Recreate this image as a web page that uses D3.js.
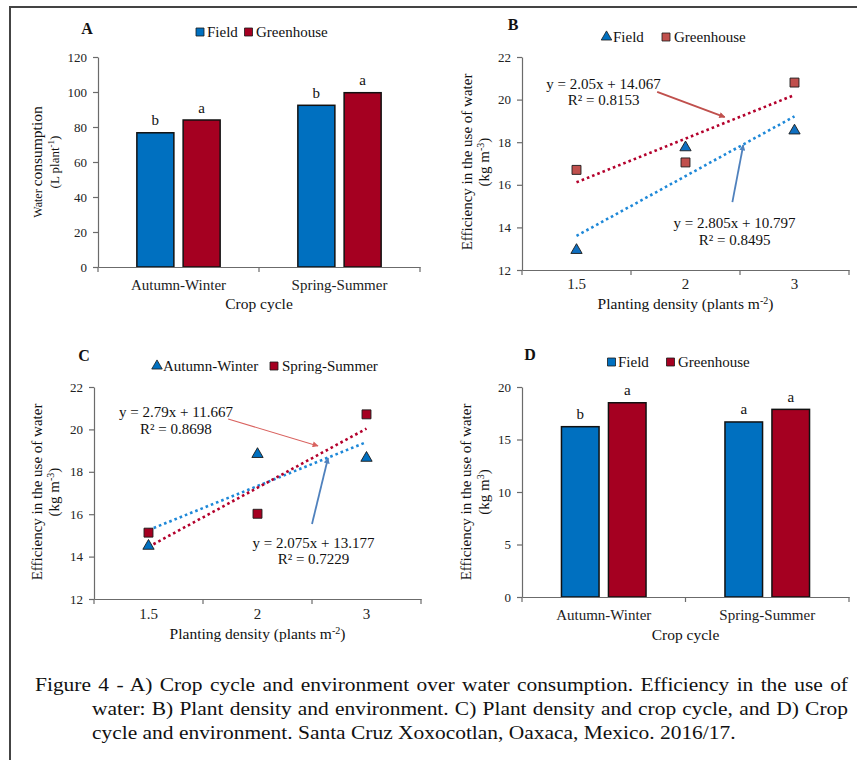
<!DOCTYPE html>
<html>
<head>
<meta charset="utf-8">
<script src="https://cdn.jsdelivr.net/npm/d3@7"></script>
<style>
    body { margin: 0; background: #fff; }
    svg { display: block; font-family: "Liberation Serif", "Times New Roman", serif; }
</style>
</head>
<body>
<svg id="fig" width="857" height="760"></svg>
<script>
// ---- data ----
const cropCycles = ['Autumn-Winter', 'Spring-Summer'];
const environments = ['Field', 'Greenhouse'];

// A) water consumption (L plant-1)
const waterField = [76.7, 92.4];
const waterGreenhouse = [84.0, 99.6];
const waterLettersField = ['b', 'b'];
const waterLettersGreenhouse = ['a', 'a'];
const waterTicks = [0, 20, 40, 60, 80, 100, 120];

// B) / C) efficiency by planting density (kg m-3)
const densities = ['1.5', '2', '3'];
const effField = [12.93, 17.75, 18.54];
const effGreenhouse = [16.7, 17.05, 20.8];
const effAutumn = [14.5, 18.83, 18.65];
const effSpring = [15.13, 16.02, 20.71];
const trendField = { slope: 2.805, intercept: 10.797, r2: 0.8495 };
const trendGreenhouse = { slope: 2.05, intercept: 14.067, r2: 0.8153 };
const trendAutumn = { slope: 2.075, intercept: 13.177, r2: 0.7229 };
const trendSpring = { slope: 2.79, intercept: 11.667, r2: 0.8698 };
const effTicks = [12, 14, 16, 18, 20, 22];

// D) efficiency by crop cycle (kg m-3)
const effCycleField = [16.22, 16.67];
const effCycleGreenhouse = [18.5, 17.87];
const effLettersField = ['b', 'a'];
const effLettersGreenhouse = ['a', 'a'];
const effCycleTicks = [0, 5, 10, 15, 20];

const captionLines = [
    'Figure 4 - A) Crop cycle and environment over water consumption. Efficiency in the use of',
    'water: B) Plant density and environment. C) Plant density and crop cycle, and D) Crop',
    'cycle and environment. Santa Cruz Xoxocotlan, Oaxaca, Mexico. 2016/17.'
];

// ---- styles ----
const serif = '"Liberation Serif", "Times New Roman", serif';
const axisColor = '#6b6b6b';
const barBlue = '#0070c0', barRed = '#a50021';
const dotBlue = '#1e88d8', dotRed = '#b3002c';

const svg = d3.select('#fig');

// frame
svg.append('path')
    .attr('d', 'M10,760V7H857')
    .attr('fill', 'none')
    .attr('stroke', '#444')
    .attr('stroke-width', 2);

const defs = svg.append('defs');
function arrowMarker(id, color) {
    defs.append('marker')
        .attr('id', id)
        .attr('viewBox', '0 0 10 10')
        .attr('refX', 9).attr('refY', 5)
        .attr('markerWidth', 7).attr('markerHeight', 6)
        .attr('markerUnits', 'userSpaceOnUse')
        .attr('orient', 'auto')
        .append('path')
        .attr('d', 'M0,0L10,5L0,10Z')
        .attr('fill', color);
}
arrowMarker('arRed', '#c0504d');
arrowMarker('arBlue', '#4f81bd');
arrowMarker('arRed2', '#d9625f');

function styleYAxis(sel) {
    sel.attr('font-family', serif).attr('font-size', 13);
    sel.select('.domain').attr('stroke', axisColor).attr('stroke-width', 1.2);
    sel.selectAll('.tick line').attr('stroke', axisColor).attr('stroke-width', 1.2);
    sel.selectAll('.tick text').attr('fill', '#222');
}

function drawXAxis(g, x, y0, labelOffset) {
    let ax = g.append('g')
        .attr('transform', `translate(0,${y0})`)
        .call(d3.axisBottom(x).tickSize(0).tickSizeOuter(0))
        .attr('font-family', serif)
        .attr('font-size', 15);
    ax.select('.domain').attr('stroke', axisColor).attr('stroke-width', 1.2);
    ax.selectAll('.tick text').attr('y', labelOffset).attr('dy', 0).attr('fill', '#222');
    let bounds = x.domain().map(d => x(d)).concat(x.range()[1]);
    ax.selectAll('line.bound')
        .data(bounds)
        .join('line')
        .attr('class', 'bound')
        .attr('x1', d => d).attr('x2', d => d)
        .attr('y1', 0).attr('y2', 5)
        .attr('stroke', axisColor).attr('stroke-width', 1.2);
}

function yTitle(g, parts) {
    parts.forEach(p => {
        let t = g.append('text')
            .attr('transform', `translate(${p.x},${p.y}) rotate(-90)`)
            .attr('text-anchor', 'middle')
            .attr('fill', '#111');
        p.spans.forEach(s => {
            let ts = t.append('tspan').attr('font-size', s.size).text(s.text);
            if (s.sup) ts.attr('baseline-shift', 'super');
        });
    });
}

function plainText(g, x, y, txt, size, anchor, weight) {
    return g.append('text')
        .attr('x', x).attr('y', y)
        .attr('font-size', size)
        .attr('text-anchor', anchor || 'start')
        .attr('font-weight', weight || 'normal')
        .attr('fill', '#111')
        .text(txt);
}

function legend(g, items, y, textY) {
    items.forEach(it => {
        let sym = it.shape === 'triangle'
            ? d3.symbol(d3.symbolTriangle, 48)
            : d3.symbol(d3.symbolSquare, it.size || 64);
        g.append('path')
            .attr('d', sym())
            .attr('transform', `translate(${it.mx},${y})`)
            .attr('fill', it.color)
            .attr('stroke', '#1b1b1b')
            .attr('stroke-width', 0.8);
        plainText(g, it.tx, textY, it.label, 15);
    });
}

// ---- bar panels (A and D) ----
function barPanel(cfg) {
    let g = svg.append('g');
    let x = d3.scaleBand().domain(cropCycles).range([cfg.x0, cfg.x1]);
    let inner = d3.scaleBand().domain(environments)
        .range([0, x.bandwidth()])
        .paddingInner(0.2).paddingOuter(0.84);
    let y = d3.scaleLinear().domain(cfg.domain).range([cfg.y0, cfg.y1]);

    g.append('g')
        .attr('transform', `translate(${cfg.x0},0)`)
        .call(d3.axisLeft(y).tickValues(cfg.ticks).tickSize(5).tickPadding(6).tickSizeOuter(0))
        .call(styleYAxis);

    let rows = cropCycles.flatMap((c, i) => environments.map((e, j) => ({
        cycle: c, env: e, value: cfg.series[j][i], letter: cfg.letters[j][i]
    })));

    g.selectAll('rect.bar')
        .data(rows)
        .join('rect')
        .attr('class', 'bar')
        .attr('x', d => x(d.cycle) + inner(d.env))
        .attr('width', inner.bandwidth())
        .attr('y', d => y(d.value))
        .attr('height', d => y(cfg.domain[0]) - y(d.value))
        .attr('fill', d => d.env === 'Field' ? barBlue : barRed)
        .attr('stroke', '#111')
        .attr('stroke-width', 1.5);

    g.selectAll('text.letter')
        .data(rows)
        .join('text')
        .attr('class', 'letter')
        .attr('x', d => x(d.cycle) + inner(d.env) + inner.bandwidth() / 2)
        .attr('y', d => y(d.value) - 7.5)
        .attr('text-anchor', 'middle')
        .attr('font-size', 15)
        .attr('fill', '#111')
        .text(d => d.letter);

    drawXAxis(g, x, cfg.y0, cfg.tickOffset);
    plainText(g, (cfg.x0 + cfg.x1) / 2, cfg.titleY, 'Crop cycle', 15.5, 'middle');
    plainText(g, cfg.letterPos[0], cfg.letterPos[1], cfg.panel, 16, 'middle', 'bold');
    legend(g, [
        { shape: 'square', color: barBlue, label: 'Field', mx: cfg.legendX[0], tx: cfg.legendX[1] },
        { shape: 'square', color: barRed, label: 'Greenhouse', mx: cfg.legendX[2], tx: cfg.legendX[3] }
    ], cfg.legendY, cfg.legendY + 5);
    yTitle(g, cfg.yTitle);
}

// ---- scatter panels (B and C) ----
function scatterPanel(cfg) {
    let g = svg.append('g');
    let x = d3.scaleBand().domain(densities).range([cfg.x0, cfg.x1]);
    let y = d3.scaleLinear().domain([12, 22]).range([cfg.y0, cfg.y1]);
    let centre = d => x(d) + x.bandwidth() / 2;
    // Excel trendlines use the category index 1..n as x
    let xIdx = d3.scaleLinear()
        .domain([1, densities.length])
        .range([centre(densities[0]), centre(densities[densities.length - 1])]);

    g.append('g')
        .attr('transform', `translate(${cfg.x0},0)`)
        .call(d3.axisLeft(y).tickValues(effTicks).tickSize(5).tickPadding(6).tickSizeOuter(0))
        .call(styleYAxis);
    drawXAxis(g, x, cfg.y0, cfg.tickOffset);

    let line = d3.line().x(d => xIdx(d[0])).y(d => y(d[1]));
    cfg.series.forEach(s => {
        let pts = [1, densities.length].map(i => [i, s.trend.slope * i + s.trend.intercept]);
        g.append('path')
            .attr('d', line(pts))
            .attr('fill', 'none')
            .attr('stroke', s.dot)
            .attr('stroke-width', 2.6)
            .attr('stroke-dasharray', '2.6 3');
    });

    cfg.series.forEach(s => {
        let sym = s.shape === 'triangle'
            ? d3.symbol(d3.symbolTriangle, 55)
            : d3.symbol(d3.symbolSquare, 80);
        g.selectAll(null)
            .data(s.values)
            .join('path')
            .attr('d', sym())
            .attr('transform', (v, i) => `translate(${centre(densities[i])},${y(v)})`)
            .attr('fill', s.color)
            .attr('stroke', '#1b1b1b')
            .attr('stroke-width', 0.9);
    });

    cfg.series.forEach(s => {
        let n = s.note;
        plainText(g, xIdx(n.at[0]), y(n.at[1]), `y = ${s.trend.slope}x + ${s.trend.intercept}`, 15, 'middle');
        plainText(g, xIdx(n.at[0]), y(n.at[1]) + 16.5, `R² = ${s.trend.r2}`, 15, 'middle');
        g.append('line')
            .attr('x1', xIdx(n.tail[0])).attr('y1', y(n.tail[1]))
            .attr('x2', xIdx(n.tip[0])).attr('y2', y(n.tip[1]))
            .attr('stroke', n.color)
            .attr('stroke-width', n.width)
            .attr('marker-end', `url(#${n.marker})`);
    });

    plainText(g, (cfg.x0 + cfg.x1) / 2, cfg.titleY, '', 15.5, 'middle')
        .call(t => {
            t.append('tspan').text('Planting density (plants m');
            t.append('tspan').attr('baseline-shift', 'super').attr('font-size', 10).text('-2');
            t.append('tspan').text(')');
        });
    plainText(g, cfg.letterPos[0], cfg.letterPos[1], cfg.panel, 16, 'middle', 'bold');
    legend(g, cfg.legend, cfg.legendY, cfg.legendY + 5);
    yTitle(g, cfg.yTitle);
}

function effTitle(x1, x2, cy, sup) {
    return [
        { x: x1, y: cy, spans: [{ text: 'Efficiency in the use of water', size: 15 }] },
        { x: x2, y: cy, spans: [{ text: '(kg m', size: 15 }, { text: sup, size: 10, sup: true }, { text: ')', size: 15 }] }
    ];
}

barPanel({
    panel: 'A', x0: 98, x1: 420, y0: 267, y1: 57,
    domain: [0, 120], ticks: waterTicks,
    series: [waterField, waterGreenhouse],
    letters: [waterLettersField, waterLettersGreenhouse],
    tickOffset: 23, titleY: 309,
    letterPos: [87, 34], legendY: 32, legendX: [200, 207, 248.5, 256],
    yTitle: [
        { x: 42, y: 162, spans: [{ text: 'Water ', size: 12 }, { text: 'consumption', size: 15.5 }] },
        { x: 59, y: 162, spans: [{ text: '(L plant', size: 13 }, { text: '-1', size: 9, sup: true }, { text: ')', size: 13 }] }
    ]
});

scatterPanel({
    panel: 'B', x0: 522, x1: 849, y0: 270, y1: 57,
    tickOffset: 19, titleY: 309,
    letterPos: [513, 30], legendY: 37,
    legend: [
        { shape: 'triangle', color: barBlue, label: 'Field', mx: 606.5, tx: 613 },
        { shape: 'square', color: '#c0504d', label: 'Greenhouse', mx: 666, tx: 674 }
    ],
    series: [
        { values: effField, trend: trendField, shape: 'triangle', color: '#0f6fc0', dot: dotBlue,
          note: { at: [2.45, 13.97], tail: [2.43, 15.19], tip: [2.53, 17.87], color: '#4f81bd', width: 1.8, marker: 'arBlue' } },
        { values: effGreenhouse, trend: trendGreenhouse, shape: 'square', color: '#c0504d', dot: dotRed,
          note: { at: [1.248, 20.5], tail: [1.74, 20.36], tip: [2.36, 19.18], color: '#c0504d', width: 2, marker: 'arRed' } }
    ],
    yTitle: effTitle(472, 489, 162, '-3')
});

scatterPanel({
    panel: 'C', x0: 94, x1: 421, y0: 599, y1: 387,
    tickOffset: 20, titleY: 639,
    letterPos: [84, 361], legendY: 366,
    legend: [
        { shape: 'triangle', color: barBlue, label: 'Autumn-Winter', mx: 157, tx: 163 },
        { shape: 'square', color: barRed, label: 'Spring-Summer', mx: 274, tx: 282 }
    ],
    series: [
        { values: effAutumn, trend: trendAutumn, shape: 'triangle', color: barBlue, dot: dotBlue,
          note: { at: [2.514, 14.41], tail: [2.5, 15.54], tip: [2.647, 18.65], color: '#4f81bd', width: 1.8, marker: 'arBlue' } },
        { values: effSpring, trend: trendSpring, shape: 'square', color: barRed, dot: dotRed,
          note: { at: [1.252, 20.58], tail: [1.731, 20.49], tip: [2.555, 19.22], color: '#d9625f', width: 1.1, marker: 'arRed2' } }
    ],
    yTitle: effTitle(42, 59, 492, '-3')
});

barPanel({
    panel: 'D', x0: 522, x1: 849, y0: 597, y1: 387,
    domain: [0, 20], ticks: effCycleTicks,
    series: [effCycleField, effCycleGreenhouse],
    letters: [effLettersField, effLettersGreenhouse],
    tickOffset: 23, titleY: 640,
    letterPos: [530, 360], legendY: 362, legendX: [611.5, 618, 670.5, 678],
    yTitle: effTitle(471, 489, 492, '3')
});

// ---- caption: the source type is a bit wide, first two lines justified ----
const capX = [35, 92, 92];
const capY = [691, 715, 739];
const capRight = 848;
const capStretch = 1.16;
captionLines.forEach((line, i) => {
    let g = svg.append('g')
        .attr('transform', `translate(${capX[i]},${capY[i]}) scale(${capStretch},1)`);
    let t = plainText(g, 0, 0, line, 18.5);
    if (i < 2) {
        let natural = t.node().getComputedTextLength();
        let gaps = line.split(' ').length - 1;
        let target = (capRight - capX[i]) / capStretch;
        t.attr('word-spacing', (target - natural) / gaps);
    }
});
</script>
</body>
</html>
